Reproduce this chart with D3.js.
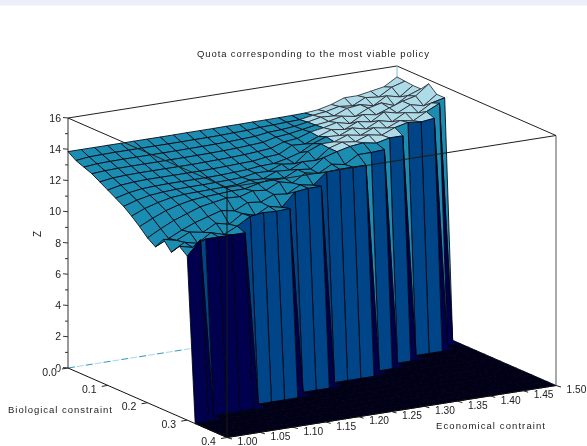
<!DOCTYPE html>
<html><head><meta charset="utf-8">
<script src="https://cdnjs.cloudflare.com/ajax/libs/d3/7.8.5/d3.min.js"></script>
<style>html,body{margin:0;padding:0;background:#fff;overflow:hidden}svg{display:block}
text{font-family:"Liberation Sans",Arial,sans-serif;fill:#222}</style></head>
<body><svg id="c" width="587" height="446"></svg>
<script>
const title = "Quota corresponding to the most viable policy";
const xLabel = "Economical contraint";
const yLabel = "Biological constraint";
const zLabel = "Z";
const econGrid = d3.range(26).map(i => +(1 + i * 0.02).toFixed(2));
const bioGrid = d3.range(21).map(i => +(i * 0.02).toFixed(2));
const econTicks = ["1.00","1.05","1.10","1.15","1.20","1.25","1.30","1.35","1.40","1.45","1.50"];
const bioTicks = ["0.0","0.1","0.2","0.3","0.4"];
const zTicks = [0,2,4,6,8,10,12,14,16];
// quota: one row per biological grid value, one column per economical grid value
const row00 = [13.85,13.85,13.85,13.85,13.85,13.85,13.85,13.85,13.85,13.86,13.86,13.86,13.87,13.87,13.88,13.88,13.89,13.90,13.92,14.0,14.2,14.5,14.5,14.65,14.8,15.3];
const row01 = [13.5,13.6,13.62,13.63,13.63,13.63,13.63,13.63,13.63,13.64,13.64,13.65,13.68,13.7,13.76,13.78,13.82,13.85,14.0,14.1,14.3,14.2,14.6,14.5,15.0,15.25];
const row02 = [13.3,13.38,13.4,13.41,13.41,13.41,13.41,13.41,13.42,13.43,13.44,13.46,13.5,13.54,13.66,13.7,13.78,13.92,14.1,14.05,14.4,14.5,14.3,14.8,14.6,15.2];
const row03 = [13.1,13.16,13.18,13.19,13.19,13.19,13.2,13.2,13.21,13.22,13.24,13.27,13.32,13.38,13.58,13.66,13.8,13.95,14.05,14.25,14.1,14.5,14.7,14.4,14.9,15.2];
const row04 = [12.8,12.92,12.96,12.98,12.98,12.98,12.98,12.98,13.0,13.02,13.04,13.08,13.14,13.22,13.5,13.58,13.86,14.0,14.2,14.0,14.45,14.3,14.6,14.9,15.1,15.75];
const row05 = [12.5,12.68,12.75,12.78,12.78,12.78,12.78,12.78,12.8,12.82,12.86,12.88,13.0,13.06,13.5,13.45,13.8,14.1,13.98,14.35,14.2,14.7,14.5,14.9,14.7,15.3];
const row06 = [12.2,12.42,12.54,12.58,12.6,12.6,12.6,12.6,12.62,12.66,12.7,12.8,12.82,13.0,13.25,13.7,14.0,13.95,14.3,14.1,14.5,14.3,14.75,14.6,15.1,15.3];
const row07 = [11.9,12.16,12.34,12.42,12.46,12.48,12.48,12.5,12.52,12.55,12.7,12.68,13.0,12.9,13.55,13.9,13.9,14.2,14.05,14.4,14.25,14.6,14.45,14.9,15.3,0];
const row08 = [11.5,11.85,12.1,12.28,12.36,12.38,12.4,12.42,12.44,12.6,12.55,12.9,12.85,13.25,13.2,13.85,14.1,14.0,14.3,14.15,14.5,14.7,14.6,14.7,0,0];
const row09 = [11.05,11.45,11.8,12.05,12.22,12.3,12.34,12.4,12.4,12.6,12.75,12.7,13.1,13.0,13.6,13.85,14.05,14.15,14.0,14.2,14.2,0,0,0,0,0];
const row10 = [10.55,11.0,11.4,11.7,12.0,12.15,12.3,12.25,12.5,12.4,12.8,12.6,13.1,12.95,13.4,13.25,13.75,13.75,13.8,0,0,0,0,0,0,0];
const row11 = [10.2,10.6,11.0,11.35,11.6,11.85,11.7,12.1,12.0,12.35,12.25,12.7,12.55,13.25,13.3,13.3,13.3,0,0,0,0,0,0,0,0,0];
const row12 = [10.9,10.7,11.1,10.95,11.4,11.2,11.75,11.5,11.95,11.75,12.6,12.7,12.7,0,0,0,0,0,0,0,0,0,0,0,0,0];
const row13 = [10.3,10.8,10.6,11.15,10.9,11.3,11.8,11.9,11.85,11.9,0,0,0,0,0,0,0,0,0,0,0,0,0,0,0,0];
const row14 = [10.9,10.7,11.1,11.1,11.1,11.1,0,0,0,0,0,0,0,0,0,0,0,0,0,0,0,0,0,0,0,0];
const row15 = [10.5,11.4,0,0,0,0,0,0,0,0,0,0,0,0,0,0,0,0,0,0,0,0,0,0,0,0];
const row16 = [0,0,0,0,0,0,0,0,0,0,0,0,0,0,0,0,0,0,0,0,0,0,0,0,0,0];
const row17 = row16, row18 = row16, row19 = row16, row20 = row16;
const quota = [row00,row01,row02,row03,row04,row05,row06,row07,row08,row09,row10,row11,row12,row13,row14,row15,row16,row17,row18,row19,row20];
const colorBreaks = [1.5,5.7,9.8,13.93];
const colorRamp = ["#00001a","#00004f","#004487","#1b8db2","#aedbe8"];

const svg = d3.select("#c");
const defs = svg.append("defs");
defs.append("filter").attr("id","soft").attr("x","-5%").attr("y","-5%").attr("width","110%").attr("height","110%")
  .append("feGaussianBlur").attr("stdDeviation",0.35);
svg.append("rect").attr("width",587).attr("height",5.5).attr("fill","#eceefa");
const root = svg.append("g").attr("filter","url(#soft)");

const ox = 68, oy = 368;
const exX = d3.scaleLinear().domain([1,1.5]).range([0,329]);
const exY = d3.scaleLinear().domain([1,1.5]).range([0,-52]);
const byX = d3.scaleLinear().domain([0,0.4]).range([0,159]);
const byY = d3.scaleLinear().domain([0,0.4]).range([0,69.5]);
const zY = d3.scaleLinear().domain([0,16]).range([oy,118]);
const color = d3.scaleThreshold().domain(colorBreaks).range(colorRamp);
const px = (e,b) => ox + exX(e) + byX(b);
const py = (e,b,z) => zY(z) + exY(e) + byY(b);
const P = (e,b,z) => [px(e,b),py(e,b,z)];
const line = d3.line();
const edge = (pts,col,w,dash) => root.append("path").attr("d",line(pts)).attr("fill","none")
  .attr("stroke",col).attr("stroke-width",w).attr("stroke-dasharray",dash||null);

// back of the box
edge([P(1,0,16),P(1.5,0,16),P(1.5,0.4,16)],"#222",1);
edge([P(1,0,0),P(1,0,16)],"#333",1);
edge([P(1.5,0.4,0),P(1.5,0.4,16)],"#555",1);
edge([P(1.5,0,0),P(1.5,0,16)],"#7cc0d8",1);
edge([P(1,0,0),P(1.5,0,0)],"#2f96bb",1,"7 11");
edge([P(1,0,0),P(1.5,0,0)],"#a5d6e6",1,"7 11").attr("stroke-dashoffset",-9);
edge([P(1.5,0,0),P(1.5,0.4,0)],"#8fcde2",1);

// surface facets, far to near
const facets = [];
bioGrid.slice(0,-1).forEach((b,k) => {
  for (let j = econGrid.length-2; j >= 0; j--) {
    const e = econGrid[j], e2 = econGrid[j+1], b2 = bioGrid[k+1];
    const zs = [quota[k][j],quota[k][j+1],quota[k+1][j+1],quota[k+1][j]];
    facets.push({pts:[P(e,b,zs[0]),P(e2,b,zs[1]),P(e2,b2,zs[2]),P(e,b2,zs[3])],m:d3.mean(zs)});
  }
});
root.append("g").selectAll("path").data(facets).join("path")
  .attr("d",d=>line(d.pts)+"Z").attr("fill",d=>color(d.m))
  .attr("stroke",d=>d.m>=colorBreaks[3]?"#2a2a33":"#05050f").attr("stroke-width",0.85).attr("stroke-linejoin","round");

// front of the box
edge([P(1,0,16),P(1,0.4,16),P(1.5,0.4,16)],"#1c1c1c",1);
edge([P(1,0.4,0),P(1,0.4,16)],"#111",1);
edge([P(1,0,0),P(1,0.4,0),P(1.5,0.4,0)],"#111",1);

// z axis
const zAxis = d3.axisLeft(zY).tickValues(d3.range(0,17)).tickSize(0).tickFormat("");
root.append("g").attr("transform",`translate(${ox},0)`).call(zAxis).select(".domain").remove();
d3.range(0,17).forEach(v => edge([[ox,zY(v)],[ox-(v%2?3:5),zY(v)+(v%2?0:-0.5)]],"#333",1));
root.append("g").selectAll("text").data(zTicks).join("text")
  .attr("x",61).attr("y",d=>zY(d)+3.6).attr("text-anchor","end").attr("font-size",10.5).text(d=>d);

// biological axis
bioTicks.forEach(t => {
  const b = +t, p = P(1,b,0);
  edge([p,[p[0]-6,p[1]+1]],"#222",1);
  root.append("text").attr("x",p[0]-18.5).attr("y",p[1]+7.5).attr("text-anchor","middle")
    .attr("font-size",10.5).attr("fill","#222").attr("stroke","#fff").attr("stroke-width",b===0?2:0)
    .attr("paint-order","stroke").text(t);
});
// economical axis
econTicks.forEach(t => {
  const e = +t, p = P(e,0.4,0);
  edge([p,[p[0]+5,p[1]+1.5]],"#222",1);
  root.append("text").attr("x",p[0]+20.5).attr("y",p[1]+7.6).attr("text-anchor","middle")
    .attr("font-size",10.2).text(t);
});

root.append("text").attr("x",197).attr("y",57).attr("font-size",9.5).attr("textLength",232)
  .attr("lengthAdjust","spacing").text(title);
root.append("text").attr("x",8).attr("y",413).attr("font-size",9.5).attr("textLength",104)
  .attr("lengthAdjust","spacing").text(yLabel);
root.append("text").attr("x",436).attr("y",429).attr("font-size",9.5).attr("textLength",109)
  .attr("lengthAdjust","spacing").text(xLabel);
root.append("text").attr("transform","translate(41,234) rotate(-90)").attr("text-anchor","middle")
  .attr("font-size",10).text(zLabel);
</script></body></html>
